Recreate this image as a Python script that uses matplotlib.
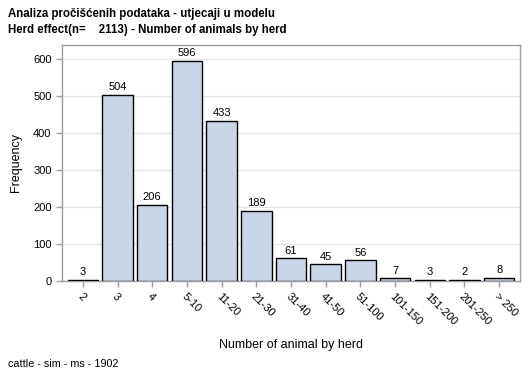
import matplotlib.pyplot as plt
import matplotlib.transforms as mtransforms

plt.rcParams["font.family"] = ["Liberation Sans", "DejaVu Sans"]

categories = ["2", "3", "4", "5-10", "11-20", "21-30", "31-40", "41-50",
              "51-100", "101-150", "151-200", "201-250", "> 250"]
counts = [3, 504, 206, 596, 433, 189, 61, 45, 56, 7, 3, 2, 8]
yticks = [0, 100, 200, 300, 400, 500, 600]

frame_color = "#9a9ea2"

fig = plt.figure(figsize=(5.29, 3.78), dpi=100)
ax = fig.add_axes([62 / 529, 97 / 378, 458 / 529, 236.3 / 378])

x = list(range(len(categories)))
bars = ax.bar(x, counts, width=0.88, color="#cad5e6", edgecolor="black", linewidth=1.0, zorder=3)
for b, v in zip(bars, counts):
    ax.annotate(str(v), (b.get_x() + b.get_width() / 2, v), xytext=(0, 2),
                textcoords="offset points", ha="center", va="bottom", fontsize=8)

ax.set_xlim(-0.6, 12.6)
ax.set_ylim(0, 640)
ax.set_yticks(yticks)
ax.set_xticks(x)
ax.set_xticklabels(categories, rotation=-45, ha="left", va="top", rotation_mode="anchor", fontsize=8)
offset = mtransforms.ScaledTranslation(-6 / 100, -2 / 100, fig.dpi_scale_trans)
for lab in ax.get_xticklabels():
    lab.set_transform(lab.get_transform() + offset)
ax.tick_params(axis="y", labelsize=8)
ax.tick_params(axis="both", color=frame_color, length=4, width=1)
ax.grid(axis="y", color="#e6e6e6", linewidth=1, zorder=0)
for s in ax.spines.values():
    s.set_color(frame_color)
    s.set_linewidth(1)

ax.set_xlabel("Number of animal by herd", fontsize=9, labelpad=8)
ax.set_ylabel("Frequency", fontsize=9, labelpad=8)

fig.text(8 / 529, 1 - 14 / 378, "Analiza pročišćenih podataka - utjecaji u modelu",
         fontsize=8.3, fontweight="bold", va="center", ha="left")
fig.text(8 / 529, 1 - 30 / 378, "Herd effect(n=    2113) - Number of animals by herd",
         fontsize=8.3, fontweight="bold", va="center", ha="left")
fig.text(8 / 529, 1 - 364 / 378, "cattle - sim - ms - 1902", fontsize=7.75, va="center", ha="left")

fig.savefig("out.png", dpi=100)
